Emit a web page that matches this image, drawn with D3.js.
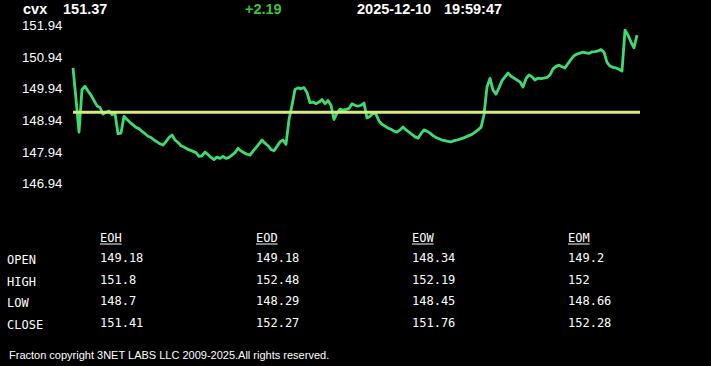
<!DOCTYPE html>
<html><head><meta charset="utf-8">
<script src="https://cdn.jsdelivr.net/npm/d3@7"></script>
<style>html,body{margin:0;padding:0;background:#000;overflow:hidden}</style>
</head><body><div id="chart"></div>
<script>
const symbol = "cvx";
const lastPrice = "151.37";
const change = "+2.19";
const dateStr = "2025-12-10";
const timeStr = "19:59:47";
const refValue = 149.18;
const yTicks = [151.94, 150.94, 149.94, 148.94, 147.94, 146.94];
const prices = [
150.58,149.60,148.55,149.90,150.00,149.85,149.72,149.55,149.38,149.33,
149.12,149.18,149.22,149.10,149.15,148.50,148.52,149.05,148.95,148.86,
148.78,148.70,148.66,148.57,148.50,148.42,148.38,148.30,148.24,148.18,
148.14,148.25,148.38,148.46,148.30,148.22,148.12,148.08,148.02,147.98,
147.94,147.90,147.78,147.80,147.92,147.84,147.75,147.68,147.76,147.72,
147.78,147.72,147.75,147.82,147.90,148.04,147.95,147.90,147.85,147.82,
147.95,148.06,148.18,148.30,148.20,148.12,148.00,147.96,148.10,148.24,
148.30,148.16,148.95,149.40,149.90,149.95,149.92,149.96,149.80,149.48,
149.50,149.45,149.50,149.58,149.45,149.55,149.40,148.95,149.15,149.28,
149.25,149.27,149.30,149.45,149.40,149.37,149.40,149.47,149.00,149.05,
149.15,149.12,148.90,148.80,148.74,148.68,148.64,148.58,148.55,148.62,
148.71,148.62,148.55,148.48,148.40,148.36,148.50,148.62,148.58,148.52,
148.44,148.38,148.34,148.30,148.28,148.26,148.24,148.28,148.30,148.33,
148.36,148.40,148.44,148.48,148.55,148.62,148.70,149.10,149.98,150.25,
149.88,149.75,149.95,150.18,150.30,150.42,150.32,150.26,150.20,150.14,
149.98,150.24,150.36,150.30,150.20,150.26,150.24,150.26,150.28,150.36,
150.55,150.63,150.67,150.62,150.58,150.72,150.85,150.97,151.02,151.05,
151.08,151.06,151.04,151.09,151.10,151.12,151.16,151.08,150.76,150.64,
150.60,150.58,150.54,150.48,151.78,151.62,151.40,151.22,151.62
];
const columns = ["EOH", "EOD", "EOW", "EOM"];
const rowLabels = ["OPEN", "HIGH", "LOW", "CLOSE"];
const tableValues = [
  ["149.18", "149.18", "148.34", "149.2"],
  ["151.8", "152.48", "152.19", "152"],
  ["148.7", "148.29", "148.45", "148.66"],
  ["151.41", "152.27", "151.76", "152.28"]
];
const footer = "Fracton copyright 3NET LABS LLC 2009-2025.All rights reserved.";

const W = 711, H = 366;
const svg = d3.select("#chart").append("svg").attr("width", W).attr("height", H)
  .style("background", "#000").style("display", "block");

const x = d3.scaleLinear().domain([0, 189]).range([73, 640]);
const y = d3.scaleLinear().domain([146.94, 151.94]).range([183, 25]);

// header
const hdr = svg.append("g").attr("font-family", "Liberation Sans, Arial, sans-serif")
  .attr("font-weight", "bold").attr("font-size", 14.5);
hdr.append("text").attr("x", 23).attr("y", 14).attr("fill", "#fff").text(symbol);
hdr.append("text").attr("x", 63).attr("y", 14).attr("fill", "#fff").text(lastPrice);
hdr.append("text").attr("x", 245).attr("y", 14).attr("fill", "#3cc43c").text(change);
hdr.append("text").attr("x", 357).attr("y", 14).attr("fill", "#fff").text(dateStr);
hdr.append("text").attr("x", 444).attr("y", 14).attr("fill", "#fff").text(timeStr);

// y axis labels
const yAxis = d3.axisLeft(y).tickValues(yTicks).tickSize(0).tickFormat(d3.format(".2f"));
const ag = svg.append("g").attr("transform", "translate(22,0)").call(yAxis);
ag.select(".domain").remove();
ag.selectAll("text").attr("text-anchor", "start").attr("x", 0).attr("dy", "0.36em")
  .attr("fill", "#fff").attr("font-size", 13.2)
  .attr("font-family", "Liberation Sans, Arial, sans-serif");

// price line
const line = d3.line().x((d, i) => x(i)).y(d => y(d));
svg.append("path").datum(prices).attr("d", line).attr("fill", "none")
  .attr("stroke", "#3ddc72").attr("stroke-width", 2.8).attr("stroke-linejoin", "round");

// reference line
svg.append("line").attr("x1", x.range()[0]).attr("x2", x.range()[1])
  .attr("y1", y(refValue)).attr("y2", y(refValue))
  .attr("stroke", "#d6ea7e").attr("stroke-width", 3);

// table
const colX = d3.scalePoint().domain(columns).range([100, 568]);
const rowY = d3.scalePoint().domain(rowLabels).range([264, 329]);
const tb = svg.append("g").attr("font-family", "DejaVu Sans Mono, monospace")
  .attr("font-size", 12).attr("fill", "#fff");
columns.forEach(c => {
  tb.append("text").attr("x", colX(c)).attr("y", 242).text(c);
  tb.append("line").attr("x1", colX(c)).attr("x2", colX(c) + c.length * 7.2)
    .attr("y1", 244).attr("y2", 244).attr("stroke", "#fff").attr("stroke-width", 1);
});
rowLabels.forEach((r, ri) => {
  tb.append("text").attr("x", 7).attr("y", rowY(r)).text(r);
  columns.forEach((c, ci) => {
    tb.append("text").attr("x", colX(c)).attr("y", rowY(r) - 2).text(tableValues[ri][ci]);
  });
});

svg.append("text").attr("x", 9).attr("y", 359).attr("fill", "#fff")
  .attr("font-family", "Liberation Sans, Arial, sans-serif").attr("font-size", 11)
  .text(footer);
</script></body></html>
